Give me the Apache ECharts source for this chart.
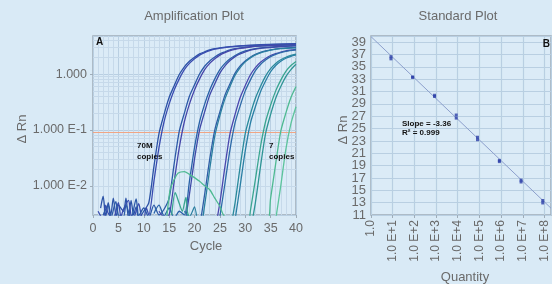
<!DOCTYPE html>
<html>
<head>
<meta charset="utf-8">
<script src="https://cdn.jsdelivr.net/npm/echarts@6/dist/echarts.min.js"></script>
<style>
html,body{margin:0;padding:0;background:#d9eaf6;}
#chart{width:552px;height:284px;}
</style>
</head>
<body>
<div id="chart"></div>
<script>
// ---------- Amplification plot data (cycle, ΔRn) ----------
const threshold = 0.086;
const yTickLabels = {0: '1.000', '-1': '1.000 E-1', '-2': '1.000 E-2'};

const amp70Ma = [[1.5,0.004],[2,0.0065],[2.5,0.0028],[3,0.005],[3.5,0.003],[4,0.006],[4.6,0.0027],[5,0.0045],[6,0.0035],[6.5,0.006],[7,0.0025],[7.5,0.0055],[8,0.003],[8.5,0.0042],[9,0.0026],[10,0.0035],[11,0.005],[12,0.022],[13,0.086],[14,0.19],[15,0.38],[16,0.62],[17,0.98],[18,1.35],[19,1.7],[20,2.0],[21,2.3],[22,2.5],[23,2.7],[24,2.85],[25,2.95],[27,3.1],[29,3.2],[33,3.35],[40,3.5]];
const amp70Mb = [[1,0.0035],[2,0.0025],[2.5,0.0045],[3,0.0032],[4,0.0026],[5,0.005],[5.5,0.0028],[6,0.0038],[7,0.0055],[7.5,0.003],[8,0.0027],[9,0.0048],[9.5,0.003],[10,0.0025],[10.5,0.004],[11,0.003],[12,0.012],[13,0.048],[14,0.14],[15,0.29],[16,0.52],[17,0.82],[18,1.2],[19,1.55],[20,1.88],[21,2.18],[22,2.42],[23,2.62],[24,2.8],[25,2.9],[27,3.07],[29,3.18],[33,3.33],[40,3.45]];
const amp7Ma = [[2,0.003],[3,0.0045],[3.5,0.0026],[4.5,0.0052],[5,0.003],[6,0.0028],[6.5,0.0045],[7.5,0.0026],[8.5,0.0058],[9,0.0029],[10,0.004],[11,0.0027],[12,0.0045],[13,0.003],[14,0.0038],[15,0.006],[16,0.025],[17,0.095],[18,0.2],[19,0.4],[20,0.64],[21,1.0],[22,1.38],[23,1.72],[24,2.02],[25,2.3],[26,2.5],[27,2.7],[28,2.85],[29,2.95],[31,3.1],[33,3.2],[37,3.33],[40,3.4]];
const amp7Mb = [[13,0.0035],[14,0.0028],[15,0.003],[16,0.012],[17,0.048],[18,0.14],[19,0.29],[20,0.52],[21,0.82],[22,1.2],[23,1.55],[24,1.88],[25,2.18],[26,2.42],[27,2.62],[28,2.78],[29,2.88],[31,3.05],[33,3.15],[37,3.28],[40,3.35]];
const amp700ka = [[12,0.0032],[13,0.0045],[14,0.0029],[15,0.004],[16,0.0026],[17,0.0035],[18,0.003],[19,0.012],[20,0.048],[21,0.14],[22,0.29],[23,0.52],[24,0.82],[25,1.2],[26,1.55],[27,1.88],[28,2.15],[29,2.4],[30,2.6],[31,2.75],[32,2.85],[34,3.0],[36,3.1],[40,3.25]];
const amp700kb = [[18,0.0018],[19,0.007],[20,0.03],[21,0.1],[22,0.21],[23,0.42],[24,0.67],[25,1.04],[26,1.4],[27,1.75],[28,2.05],[29,2.3],[30,2.5],[31,2.68],[32,2.8],[34,2.95],[36,3.05],[40,3.2]];
const amp70ka = [[21,0.0018],[22,0.007],[23,0.03],[24,0.1],[25,0.21],[26,0.42],[27,0.67],[28,1.04],[29,1.4],[30,1.72],[31,2.0],[32,2.25],[33,2.45],[34,2.6],[35,2.72],[37,2.88],[40,3.0]];
const amp70kb = [[18,0.0035],[19,0.0028],[20,0.0042],[21,0.0013],[22,0.0045],[23,0.02],[24,0.078],[25,0.18],[26,0.36],[27,0.6],[28,0.95],[29,1.3],[30,1.65],[31,1.95],[32,2.2],[33,2.4],[34,2.55],[35,2.68],[37,2.85],[40,2.95]];
const amp7ka = [[24,0.0015],[25,0.005],[26,0.022],[27,0.086],[28,0.19],[29,0.38],[30,0.62],[31,0.96],[32,1.3],[33,1.62],[34,1.9],[35,2.15],[36,2.32],[37,2.48],[38,2.6],[40,2.75]];
const amp7kb = [[25,0.0028],[26,0.011],[27,0.045],[28,0.135],[29,0.27],[30,0.5],[31,0.78],[32,1.15],[33,1.48],[34,1.78],[35,2.05],[36,2.25],[37,2.42],[38,2.55],[40,2.7]];
const amp700a = [[27,0.0015],[28,0.005],[29,0.022],[30,0.086],[31,0.19],[32,0.37],[33,0.6],[34,0.92],[35,1.25],[36,1.55],[37,1.8],[38,2.0],[39,2.15],[40,2.28]];
const amp700b = [[28,0.0025],[29,0.01],[30,0.042],[31,0.13],[32,0.26],[33,0.48],[34,0.75],[35,1.1],[36,1.42],[37,1.7],[38,1.92],[39,2.08],[40,2.2]];
const amp70a = [[15.5,0.003],[16.2,0.0075],[17,0.0048],[17.6,0.0035],[18.3,0.0062],[19,0.0028],[30,0.001],[31,0.0035],[32,0.013],[33,0.05],[34,0.14],[35,0.28],[36,0.5],[37,0.78],[38,1.12],[39,1.42],[40,1.68]];
const amp70b = [[31,0.0015],[32,0.005],[33,0.022],[34,0.086],[35,0.19],[36,0.37],[37,0.6],[38,0.9],[39,1.2],[40,1.5]];
const amp7a = [[14.5,0.0025],[15.2,0.0085],[16,0.013],[16.8,0.017],[18,0.018],[19,0.016],[20,0.014],[21,0.012],[22,0.01],[23,0.0085],[24,0.006],[25,0.0043],[26,0.0028],[34,0.0017],[35,0.006],[36,0.025],[37,0.095],[38,0.2],[39,0.38],[40,0.6]];
const amp7b = [[36,0.0025],[37,0.01],[38,0.045],[39,0.13],[40,0.26]];

// ---------- Standard plot data ----------
const stdLogQty = [0.92, 1.92, 2.93, 3.93, 4.91, 5.92, 6.92, 7.92];
const stdCtRep1 = [36.65, 33.35, 30.4, 27.2, 23.6, 19.85, 16.65, 13.35];
const stdCtRep2 = [36.3, 33.3, 30.2, 26.7, 23.2, 19.65, 16.35, 12.95];
const fitX = [0, 8.3];
const fitY = [39.9, 12.1];
const ctAxisMin = 11;
const ctAxisMax = 40;
const slopeText = 'Slope = -3.36';
const r2Text = 'R² = 0.999';

const curves = [
  {d: amp70Ma, c: '#2b52a6'}, {d: amp70Mb, c: '#3a4cb0'},
  {d: amp7Ma, c: '#2d5aa8'}, {d: amp7Mb, c: '#4646aa'},
  {d: amp700ka, c: '#2a62a8'}, {d: amp700kb, c: '#3f49a8'},
  {d: amp70ka, c: '#2f5ea6'}, {d: amp70kb, c: '#2b7fa0'},
  {d: amp7ka, c: '#4a48ae'}, {d: amp7kb, c: '#2e6aa8'},
  {d: amp700a, c: '#2a8a9c'}, {d: amp700b, c: '#2a7fa4'},
  {d: amp70a, c: '#3aa590'}, {d: amp70b, c: '#2f9596'},
  {d: amp7a, c: '#4fba92'}, {d: amp7b, c: '#5cc49c'}
];

// log minor grid lines (decoration only)
const minorVals = [];
for (let k = -3; k <= 0; k++) for (let m = 2; m <= 9; m++) {
  const v = m * Math.pow(10, k);
  if (v > 0.003 && v < 4.8) minorVals.push({yAxis: v});
}

const FONT = 'Liberation Sans, Arial, sans-serif';
const grey = '#6a6a6a';
const gridCol = '#b9cfe2';

const chart = echarts.init(document.getElementById('chart'), null, {renderer: 'canvas'});

const series = [];
series.push({
  type: 'line', xAxisIndex: 0, yAxisIndex: 0, data: [], z: 1, silent: true,
  markLine: {silent: true, z: 1, symbol: 'none', label: {show: false}, animation: false,
    lineStyle: {color: '#c6d9ea', width: 1, type: 'solid'}, data: minorVals}
});
series.push({
  type: 'line', xAxisIndex: 0, yAxisIndex: 0, data: [], z: 2, silent: true,
  markLine: {silent: true, z: 2, symbol: 'none', label: {show: false}, animation: false,
    lineStyle: {color: '#f0a585', width: 1.2, type: 'solid'}, data: [{yAxis: threshold}]}
});
curves.forEach(cv => series.push({
  type: 'line', xAxisIndex: 0, yAxisIndex: 0, data: cv.d, showSymbol: false,
  smooth: 0.25, z: 3, lineStyle: {color: cv.c, width: 1.3}, itemStyle: {color: cv.c}
}));
series.push({
  type: 'line', xAxisIndex: 1, yAxisIndex: 1, z: 3, showSymbol: false,
  data: fitX.map((x, i) => [x, fitY[i]]),
  lineStyle: {color: '#8c9fcc', width: 1}
});
series.push({
  type: 'scatter', xAxisIndex: 1, yAxisIndex: 1, z: 4, symbol: 'rect', symbolSize: [3, 3],
  data: stdLogQty.map((x, i) => [x, stdCtRep1[i]]), itemStyle: {color: '#2c3fa8'}
});
series.push({
  type: 'scatter', xAxisIndex: 1, yAxisIndex: 1, z: 4, symbol: 'rect', symbolSize: [3, 3],
  data: stdLogQty.map((x, i) => [x, stdCtRep2[i]]), itemStyle: {color: '#2c3fa8'}
});

const txt = (text, x, y, opt) => Object.assign({
  type: 'text', x: x, y: y, silent: true, z: 100,
  style: Object.assign({text: text, fill: grey, font: '13px ' + FONT, align: 'center', verticalAlign: 'middle'}, opt || {})
});

chart.setOption({
  animation: false,
  backgroundColor: '#d9eaf6',
  textStyle: {fontFamily: FONT},
  grid: [
    {left: 93, top: 36, width: 203, height: 179, show: true, backgroundColor: '#dbebf7', borderColor: '#9eacb8', borderWidth: 1.5},
    {left: 371, top: 36, width: 180, height: 179, show: true, backgroundColor: '#dbebf7', borderColor: '#9eacb8', borderWidth: 1.5}
  ],
  xAxis: [
    {gridIndex: 0, type: 'value', min: 0, max: 40, interval: 5,
     axisLine: {show: false}, axisTick: {show: true, length: 3, lineStyle: {color: '#9eacb8'}},
     axisLabel: {color: grey, fontSize: 12.5, margin: 7, fontFamily: FONT},
     splitLine: {show: true, lineStyle: {color: gridCol, width: 1}},
     minorTick: {show: false, splitNumber: 5},
     minorSplitLine: {show: true, lineStyle: {color: '#c6d9ea', width: 1}}},
    {gridIndex: 1, type: 'value', min: 0, max: 8.3, interval: 1,
     axisLine: {show: false}, axisTick: {show: true, length: 3, lineStyle: {color: '#9eacb8'}},
     axisLabel: {color: grey, fontSize: 12, margin: 5, rotate: 90, fontFamily: FONT, showMinLabel: true, showMaxLabel: false,
       formatter: v => (Math.abs(v - Math.round(v)) > 1e-6 ? '' : (Math.round(v) === 0 ? '1.0' : '1.0 E+' + Math.round(v)))},
     splitLine: {show: true, lineStyle: {color: gridCol, width: 1.2}}}
  ],
  yAxis: [
    {gridIndex: 0, type: 'log', logBase: 10, min: 0.003, max: 4.8,
     axisLine: {show: false}, axisTick: {show: true, length: 3, lineStyle: {color: '#9eacb8'}},
     axisLabel: {color: grey, fontSize: 12.5, margin: 6, fontFamily: FONT, showMinLabel: false, showMaxLabel: false,
       formatter: v => {const l = Math.log10(v); const r = Math.round(l); return Math.abs(l - r) < 0.01 && yTickLabels[r] ? yTickLabels[r] : '';}},
     splitLine: {show: true, lineStyle: {color: gridCol, width: 1}}},
    // Ct axis: labels 13..39
    {gridIndex: 1, type: 'value', min: ctAxisMin, max: ctAxisMax, interval: 2,
     axisLine: {show: false}, axisTick: {show: false},
     axisLabel: {color: grey, fontSize: 13, margin: 5, fontFamily: FONT, showMinLabel: false, showMaxLabel: false,
       formatter: v => (v === ctAxisMax ? '' : String(v))},
     splitLine: {show: true, lineStyle: {color: gridCol, width: 1.2}}},
    // same Ct scale, carrying only the bottom label
    {gridIndex: 1, type: 'value', position: 'left', offset: 0, min: ctAxisMin, max: ctAxisMax, interval: 2,
     axisLine: {show: false}, axisTick: {show: false}, splitLine: {show: false},
     axisLabel: {color: grey, fontSize: 13, margin: 5, fontFamily: FONT, showMinLabel: true, showMaxLabel: false,
       formatter: v => (v === ctAxisMin ? String(v) : '')}}
  ],
  series: series,
  graphic: [
    txt('Amplification Plot', 194, 16),
    txt('Standard Plot', 458, 16),
    txt('Cycle', 206, 246),
    txt('Quantity', 465, 277),
    Object.assign(txt('Δ Rn', 22, 129), {rotation: Math.PI / 2}),
    Object.assign(txt('Δ Rn', 343, 130), {rotation: Math.PI / 2}),
    txt('A', 96, 42, {font: 'bold 10px ' + FONT, fill: '#111', align: 'left'}),
    txt('B', 550, 44, {font: 'bold 10px ' + FONT, fill: '#111', align: 'right'}),
    txt('70M', 137, 146, {font: 'bold 8px ' + FONT, fill: '#111', align: 'left'}),
    txt('copies', 137, 157, {font: 'bold 8px ' + FONT, fill: '#111', align: 'left'}),
    txt('7', 269, 146, {font: 'bold 8px ' + FONT, fill: '#111', align: 'left'}),
    txt('copies', 269, 157, {font: 'bold 8px ' + FONT, fill: '#111', align: 'left'}),
    txt(slopeText, 402, 124, {font: 'bold 8px ' + FONT, fill: '#111', align: 'left'}),
    txt(r2Text, 402, 133, {font: 'bold 8px ' + FONT, fill: '#111', align: 'left'})
  ]
});
</script>
</body>
</html>
